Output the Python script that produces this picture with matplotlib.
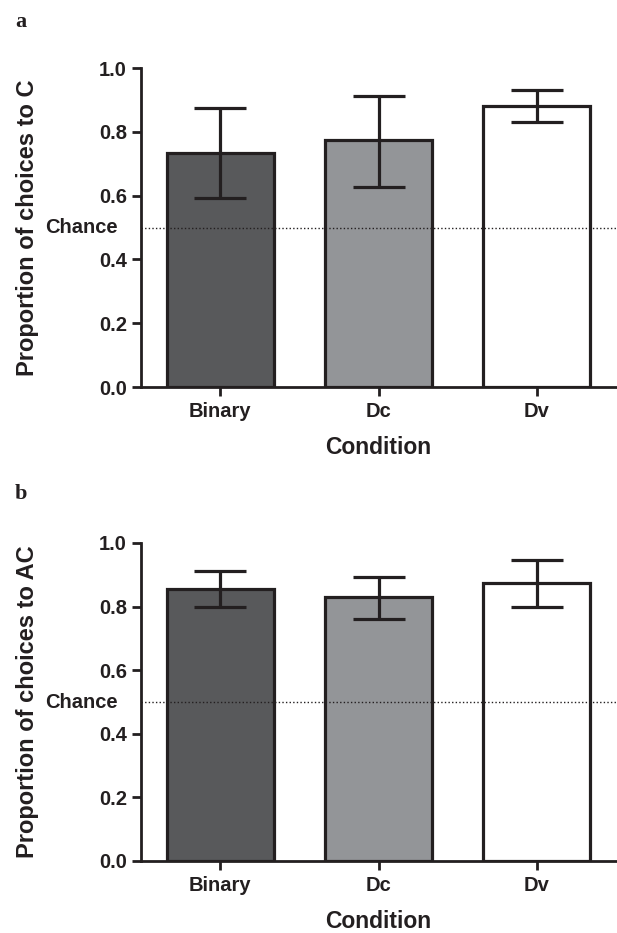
import matplotlib
matplotlib.use("Agg")
import matplotlib.pyplot as plt
import numpy as np

categories = ["Binary", "Dc", "Dv"]
means_a = [0.735, 0.773, 0.881]
err_lo_a = [0.593, 0.627, 0.830]
err_hi_a = [0.874, 0.912, 0.931]
means_b = [0.855, 0.829, 0.873]
err_lo_b = [0.800, 0.762, 0.799]
err_hi_b = [0.912, 0.894, 0.945]
yticks = [0.0, 0.2, 0.4, 0.6, 0.8, 1.0]
chance = 0.5
fills = ["#58595b", "#939598", "#ffffff"]
edge = "#231f20"

plt.rcParams['font.family'] = ['Liberation Sans', 'DejaVu Sans']

W, H = 617, 933
fig = plt.figure(figsize=(W / 100, H / 100), dpi=100)

def px_axes(left, right, top, bottom):
    return [left / W, 1 - bottom / H, (right - left) / W, (bottom - top) / H]

def panel(ax, means, lo, hi, ylabel, letter, letter_y):
    x = np.arange(len(categories))
    ax.bar(x, means, width=0.675, color=fills, edgecolor=edge, linewidth=2.3, zorder=2)
    yerr = [np.array(means) - np.array(lo), np.array(hi) - np.array(means)]
    ax.errorbar(x, means, yerr=yerr, fmt='none', ecolor=edge, elinewidth=2.3,
                capsize=19, capthick=2.3, zorder=3)
    ax.axhline(chance, color=edge, linestyle=(0, (1, 1.6)), linewidth=1.0, zorder=4)
    ax.set_xlim(-0.5, 2.5)
    ax.set_ylim(0, 1.0)
    ax.set_yticks(yticks)
    ax.set_yticklabels([f"{t:.1f}" for t in yticks])
    ax.set_xticks(x)
    ax.set_xticklabels(categories)
    for s in ["top", "right"]:
        ax.spines[s].set_visible(False)
    for s in ["left", "bottom"]:
        ax.spines[s].set_linewidth(2.0)
        ax.spines[s].set_color(edge)
    ax.tick_params(axis='both', width=2.0, length=6.5, color=edge, labelsize=14.5, pad=3.5)
    for lab in ax.get_xticklabels() + ax.get_yticklabels():
        lab.set_fontweight('bold')
        lab.set_color(edge)
    ax.tick_params(axis='x', pad=4)
    ax.set_ylabel(ylabel, fontsize=17, fontweight='bold', color=edge)
    ax.yaxis.label.set_va('center')
    ax.yaxis.set_label_coords(-0.238, 0.5)
    ax.set_xlabel("Condition", fontsize=16.5, fontweight='bold', color=edge)
    ax.xaxis.set_label_coords(0.5, -0.155)
    ax.annotate("Chance", xy=(0, chance), xycoords=('axes fraction', 'data'),
                xytext=(-16.5, 0), textcoords='offset points', ha='right', va='center',
                fontsize=14.5, fontweight='bold', color=edge)
    fig.text(15 / W, 1 - letter_y / H, letter, family=['Liberation Serif', 'DejaVu Serif'],
             fontsize=16, fontweight='bold', va='center', ha='left', color=edge)

ax1 = fig.add_axes(px_axes(141, 616, 68, 387))
panel(ax1, means_a, err_lo_a, err_hi_a, "Proportion of choices to C", "a", 22)
ax2 = fig.add_axes(px_axes(141, 616, 543, 861))
panel(ax2, means_b, err_lo_b, err_hi_b, "Proportion of choices to AC", "b", 494)

fig.savefig("out.png", dpi=100)
